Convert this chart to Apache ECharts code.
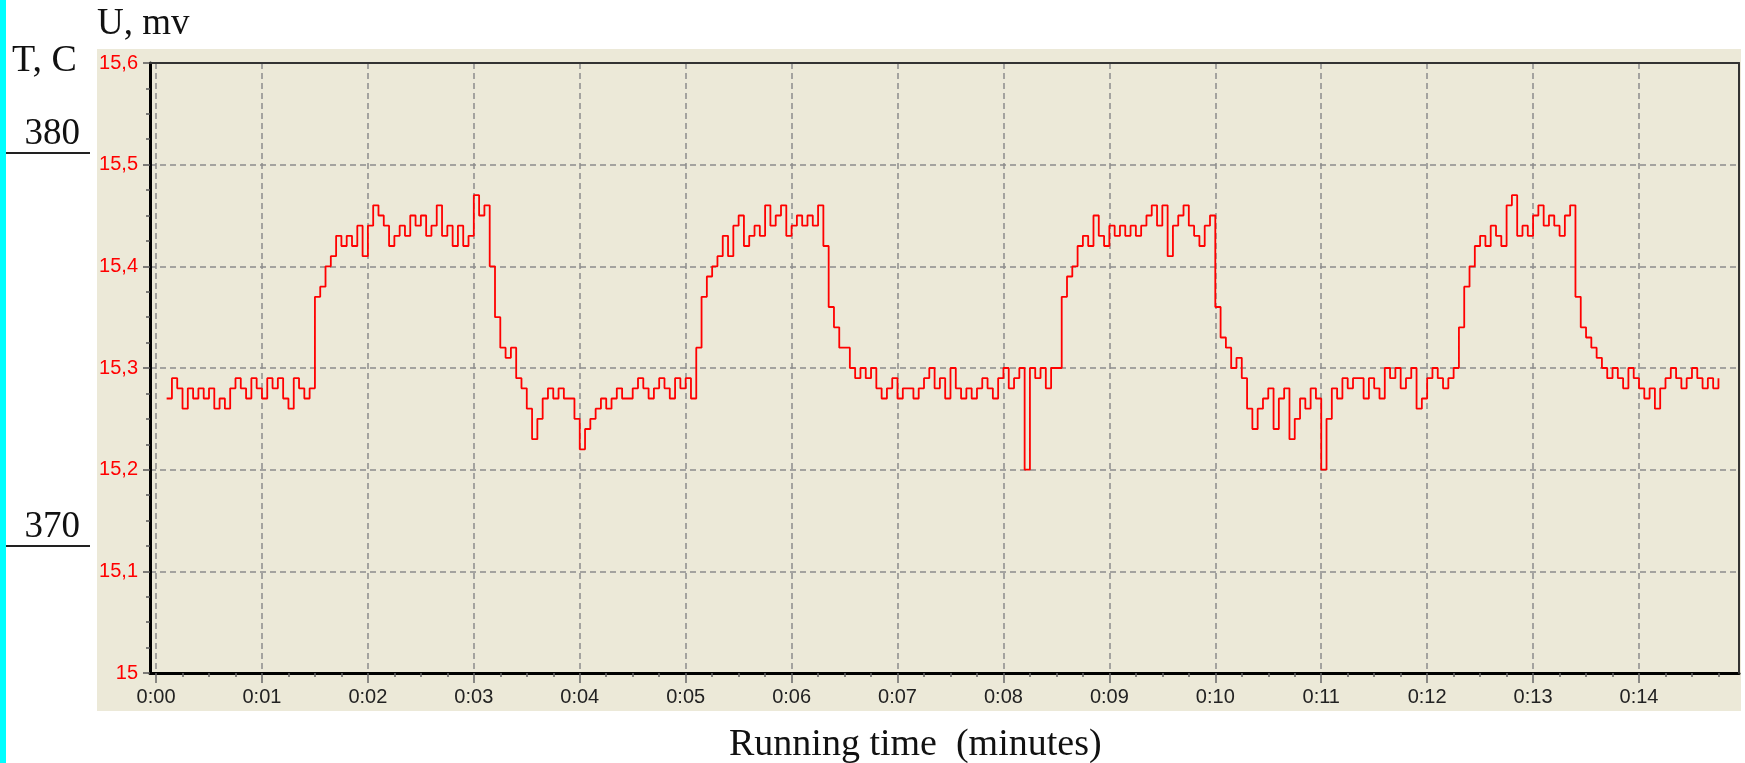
<!DOCTYPE html>
<html style="height: 100%">

<head>
  <meta charset="UTF-8" />
  <title>Running time</title>
  <script src="https://cdn.jsdelivr.net/npm/echarts@6.0.0/dist/echarts.min.js"></script>
  <script>
    // sampled every 0.05 min starting at 0.10 min
    const sampleStart = 0.10;
    const sampleStep = 0.05;
    const voltage = [
      15.27, 15.29, 15.28, 15.26, 15.28, 15.27, 15.28, 15.27, 15.28, 15.26, 15.27, 15.26, 15.28, 15.29, 15.28, 15.27, 15.29, 15.28,
      15.27, 15.29, 15.28, 15.29, 15.27, 15.26, 15.29, 15.28, 15.27, 15.28, 15.37, 15.38, 15.40, 15.41, 15.43, 15.42, 15.43, 15.42, 15.44, 15.41,
      15.44, 15.46, 15.45, 15.44, 15.42, 15.43, 15.44, 15.43, 15.45, 15.44, 15.45, 15.43, 15.44, 15.46, 15.43, 15.44, 15.42, 15.44, 15.42, 15.43,
      15.47, 15.45, 15.46, 15.40, 15.35, 15.32, 15.31, 15.32, 15.29, 15.28, 15.26, 15.23, 15.25, 15.27, 15.28, 15.27, 15.28, 15.27, 15.27, 15.25,
      15.22, 15.24, 15.25, 15.26, 15.27, 15.26, 15.27, 15.28, 15.27, 15.27, 15.28, 15.29, 15.28, 15.27, 15.28, 15.29, 15.28, 15.27, 15.29, 15.28,
      15.29, 15.27, 15.32, 15.37, 15.39, 15.40, 15.41, 15.43, 15.41, 15.44, 15.45, 15.42, 15.43, 15.44, 15.43, 15.46, 15.44, 15.45, 15.46, 15.43,
      15.44, 15.45, 15.44, 15.45, 15.44, 15.46, 15.42, 15.36, 15.34, 15.32, 15.32, 15.30, 15.29, 15.30, 15.29, 15.30, 15.28, 15.27, 15.28, 15.29,
      15.27, 15.28, 15.28, 15.27, 15.28, 15.29, 15.30, 15.28, 15.29, 15.27, 15.30, 15.28, 15.27, 15.28, 15.27, 15.28, 15.29, 15.28, 15.27, 15.29,
      15.30, 15.28, 15.29, 15.30, 15.20, 15.30, 15.29, 15.30, 15.28, 15.30, 15.30, 15.37, 15.39, 15.40, 15.42, 15.43, 15.42, 15.45, 15.43, 15.42,
      15.44, 15.43, 15.44, 15.43, 15.44, 15.43, 15.44, 15.45, 15.46, 15.44, 15.46, 15.41, 15.44, 15.45, 15.46, 15.44, 15.43, 15.42, 15.44, 15.45,
      15.36, 15.33, 15.32, 15.30, 15.31, 15.29, 15.26, 15.24, 15.26, 15.27, 15.28, 15.24, 15.27, 15.28, 15.23, 15.25, 15.27, 15.26, 15.28, 15.27,
      15.20, 15.25, 15.28, 15.27, 15.29, 15.28, 15.29, 15.29, 15.27, 15.29, 15.28, 15.27, 15.30, 15.29, 15.30, 15.28, 15.29, 15.30, 15.26, 15.27,
      15.29, 15.30, 15.29, 15.28, 15.29, 15.30, 15.34, 15.38, 15.40, 15.42, 15.43, 15.42, 15.44, 15.43, 15.42, 15.46, 15.47, 15.43, 15.44, 15.43,
      15.45, 15.46, 15.44, 15.45, 15.44, 15.43, 15.45, 15.46, 15.37, 15.34, 15.33, 15.32, 15.31, 15.30, 15.29, 15.30, 15.29, 15.28, 15.30, 15.29,
      15.28, 15.27, 15.28, 15.26, 15.28, 15.29, 15.30, 15.29, 15.28, 15.29, 15.30, 15.29, 15.28, 15.29, 15.28, 15.29
    ];
    const timeTicks = [0, 1, 2, 3, 4, 5, 6, 7, 8, 9, 10, 11, 12, 13, 14];
    const timeLabels = ['0:00', '0:01', '0:02', '0:03', '0:04', '0:05', '0:06', '0:07',
      '0:08', '0:09', '0:10', '0:11', '0:12', '0:13', '0:14'];
    const tempTicks = [370, 380];

    function renderChart() {
      const dom = document.getElementById('container');
      const myChart = echarts.init(dom, null, { renderer: 'canvas' });

      const points = voltage.map((v, i) => [sampleStart + i * sampleStep, v]);
      const minorTimes = [];
      timeTicks.forEach(t => {
        [0.25, 0.5, 0.75].forEach(f => minorTimes.push(t + f));
      });

      const tMin = -0.057, tMax = 14.944;
      const gridLine = { show: true, lineStyle: { color: '#8c8c8c', width: 1.5, type: [6, 4] } };
      const frame = { show: true, onZero: false, lineStyle: { color: '#333', width: 2 } };
      const serif = '"Liberation Serif", "Times New Roman", serif';
      const sans = '"Liberation Sans", Arial, sans-serif';

      const option = {
        animation: false,
        backgroundColor: '#ffffff',
        grid: [
          { left: 150, right: 6, top: 63, bottom: 90, containLabel: false, outerBoundsMode: 'none' },
          // narrow grid that only carries the temperature scale
          { left: 90, width: 1, top: 63, bottom: 90, containLabel: false, outerBoundsMode: 'none' }
        ],
        graphic: [
          { type: 'rect', z: -100, shape: { x: 0, y: 0, width: 6, height: 763 }, style: { fill: '#00ffff' } },
          { type: 'rect', z: -100, shape: { x: 97, y: 49, width: 1644, height: 662 }, style: { fill: '#ece9d8' } },
          { type: 'text', x: 97, y: 24, style: { text: 'U, mv', font: '37px ' + serif, fill: '#111', verticalAlign: 'middle' } },
          { type: 'text', x: 12, y: 61, style: { text: 'T, C', font: '38px ' + serif, fill: '#111', verticalAlign: 'middle' } },
          { type: 'text', x: 729, y: 745, style: { text: 'Running time  (minutes)', font: '38px ' + serif, fill: '#111', verticalAlign: 'middle' } }
        ],
        xAxis: [{
          type: 'value', gridIndex: 0, min: tMin, max: tMax, position: 'bottom',
          axisLine: { show: true, onZero: false, lineStyle: { color: '#000', width: 3 } },
          axisTick: { show: true, customValues: timeTicks, length: 10, lineStyle: { color: '#666', width: 1.5 } },
          axisLabel: {
            customValues: timeTicks,
            formatter: v => timeLabels[Math.round(v)],
            color: '#222', fontFamily: sans, fontSize: 20, margin: 14
          },
          splitLine: gridLine
        }, {
          // minor ticks
          type: 'value', gridIndex: 0, min: tMin, max: tMax, position: 'bottom',
          axisLine: { show: false, onZero: false },
          axisTick: { show: true, customValues: minorTimes, length: 4, lineStyle: { color: '#666', width: 1.5 } },
          axisLabel: { show: false },
          splitLine: { show: false }
        }, {
          // top frame
          type: 'value', gridIndex: 0, min: tMin, max: tMax, position: 'top', z: 5,
          axisLine: frame, axisTick: { show: false }, axisLabel: { show: false }, splitLine: { show: false }
        }, {
          type: 'value', gridIndex: 1, min: 0, max: 1, show: false
        }],
        yAxis: [{
          type: 'value', gridIndex: 0, min: 15, max: 15.6, interval: 0.1, position: 'left',
          axisLine: { show: true, onZero: false, lineStyle: { color: '#000', width: 3 } },
          axisTick: { show: true, length: 7, lineStyle: { color: '#555', width: 1.5 } },
          minorTick: { show: true, splitNumber: 4, length: 4, lineStyle: { color: '#555', width: 1.5 } },
          axisLabel: {
            formatter: v => String(+v.toFixed(1)).replace('.', ','),
            color: '#ff0000', fontFamily: sans, fontSize: 20, margin: 12
          },
          splitLine: gridLine
        }, {
          // temperature scale T, C
          type: 'value', gridIndex: 1, min: 366.768, max: 382.29, position: 'left',
          axisLine: { show: false, onZero: false },
          axisTick: { show: true, customValues: tempTicks, length: 84, lineStyle: { color: '#222', width: 2 } },
          axisLabel: {
            customValues: tempTicks,
            color: '#111', fontFamily: serif, fontSize: 37, margin: 10,
            verticalAlign: 'bottom', lineHeight: 37
          },
          splitLine: { show: false }
        }, {
          // right frame
          type: 'value', gridIndex: 0, min: 15, max: 15.6, position: 'right', z: 5,
          axisLine: frame, axisTick: { show: false }, axisLabel: { show: false }, splitLine: { show: false }
        }],
        series: [{
          type: 'line',
          xAxisIndex: 0,
          yAxisIndex: 0,
          data: points,
          step: 'end',
          showSymbol: false,
          silent: true,
          lineStyle: { color: '#ff0000', width: 1.8 }
        }]
      };
      myChart.setOption(option);
      window.addEventListener('resize', myChart.resize);
    }

    window.addEventListener('load', renderChart);
  </script>
</head>

<body style="height: 100%; margin: 0">
  <div id="container" style="width: 1745px; height: 763px"></div>
</body>

</html>
